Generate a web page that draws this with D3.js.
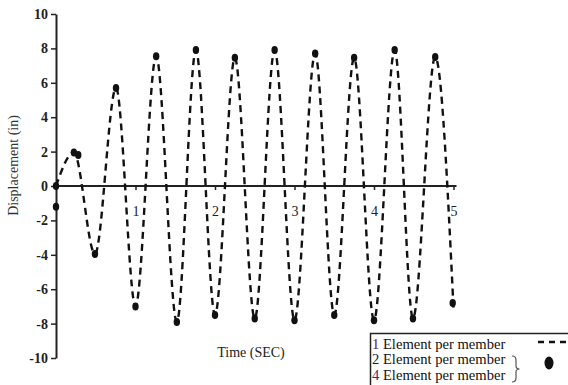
<!DOCTYPE html>
<html><head><meta charset="utf-8">
<script src="https://cdn.jsdelivr.net/npm/d3@7"></script>
<style>
body{margin:0;background:#fff}
svg{display:block}
text{font-family:"Liberation Serif","Times New Roman",serif}
</style>
</head><body>
<svg id="c" width="568" height="385"></svg>
<script>
// 1 element per member (dashed curve) — extremes
const times = [0, 0.225, 0.49, 0.755, 1.0, 1.26, 1.52, 1.76, 2.0, 2.25, 2.5, 2.75, 3.0, 3.26, 3.5, 3.75, 4.0, 4.26, 4.49, 4.77, 5.0];
const displacement = [0, 1.95, -3.95, 5.7, -7.0, 7.55, -7.9, 7.9, -7.5, 7.45, -7.7, 7.9, -7.8, 7.7, -7.5, 7.45, -7.8, 7.9, -7.7, 7.5, -7.1];
// 2 / 4 elements per member (dots)
const dotTimes = [0, 0, 0.225, 0.28, 0.49, 0.755, 1.0, 1.26, 1.52, 1.76, 2.0, 2.25, 2.5, 2.75, 3.0, 3.26, 3.5, 3.75, 4.0, 4.26, 4.49, 4.77, 4.99];
const dotValues = [0, -1.2, 1.95, 1.8, -3.95, 5.7, -7.0, 7.55, -7.9, 7.9, -7.5, 7.45, -7.7, 7.9, -7.8, 7.7, -7.5, 7.45, -7.8, 7.9, -7.7, 7.5, -6.8];
const yTicks = [-10, -8, -6, -4, -2, 0, 2, 4, 6, 8, 10];
const xTicks = [1, 2, 3, 4, 5];
const legendLabels = ["1 Element per member", "2 Element per member", "4 Element per member"];

const svg = d3.select('#c');
svg.append('rect').attr('width', 568).attr('height', 385).attr('fill', '#fff');

const x = d3.scaleLinear().domain([0, 5]).range([56, 453.5]);
const y = d3.scaleLinear().domain([-10, 10]).range([358, 14]);

// Y axis
const gy = svg.append('g').attr('transform', `translate(${x(0)},0)`)
  .call(d3.axisLeft(y).tickValues(yTicks).tickSize(5).tickSizeOuter(0).tickPadding(3).tickFormat(d => String(d)));
gy.select('.domain').attr('stroke', '#222').attr('stroke-width', 2);
gy.selectAll('.tick line').attr('stroke', '#222').attr('stroke-width', 1.5);
gy.selectAll('.tick text').attr('font-size', 14).attr('font-weight', 'bold')
  .attr('font-family', '"Liberation Serif",serif').attr('fill', '#222').style('fill', '#222');

// X axis at y = 0
const gx = svg.append('g').attr('transform', `translate(0,${y(0)})`)
  .call(d3.axisBottom(x).tickValues(xTicks).tickSize(4).tickSizeOuter(0).tickPadding(16).tickFormat(d => String(d)));
gx.select('.domain').remove();
gx.append('line').attr('x1', x(0)).attr('x2', x(5) + 3).attr('y1', 0).attr('y2', 0)
  .attr('stroke', '#222').attr('stroke-width', 2);
gx.selectAll('.tick line').attr('stroke', '#222').attr('stroke-width', 1.5);
gx.selectAll('.tick text').attr('font-size', 14)
  .attr('font-family', '"Liberation Serif",serif').attr('fill', '#222').style('fill', '#222');

// Dashed curve
const pts = times.map((t, i) => [t, displacement[i]]);
const line = d3.line().x(d => x(d[0])).y(d => y(d[1])).curve(d3.curveMonotoneX);
svg.append('path').datum(pts).attr('d', line)
  .attr('fill', 'none').attr('stroke', '#111').attr('stroke-width', 2.4)
  .attr('stroke-dasharray', '7,5');

// Dots
svg.append('g').selectAll('ellipse').data(dotTimes.map((t, i) => [t, dotValues[i]]))
  .join('ellipse').attr('cx', d => x(d[0])).attr('cy', d => y(d[1]))
  .attr('rx', 3.2).attr('ry', 4).attr('fill', '#111');

// Axis titles
svg.append('text').attr('transform', 'translate(18,165.5) rotate(-90)')
  .attr('text-anchor', 'middle').attr('font-size', 14).attr('fill', '#333')
  .text('Displacement (in)');
svg.append('text').attr('x', 251).attr('y', 357)
  .attr('text-anchor', 'middle').attr('font-size', 14).attr('fill', '#222')
  .text('Time (SEC)');

// Legend
const lg = svg.append('g');
lg.append('rect').attr('x', 370.5).attr('y', 333.5).attr('width', 210).attr('height', 60)
  .attr('fill', '#fff').attr('stroke', '#222').attr('stroke-width', 1.5);
const digitColors = ['#5a2060', '#1a1a3a', '#5a2060'];
const baselines = [348.5, 364, 379.5];
legendLabels.forEach((lab, i) => {
  const t = lg.append('text').attr('x', 372).attr('y', baselines[i]).attr('font-size', 14.6).attr('fill', '#111');
  t.append('tspan').attr('fill', digitColors[i]).text(lab.slice(0, 1));
  t.append('tspan').text(lab.slice(1));
});
lg.append('line').attr('x1', 538).attr('x2', 568).attr('y1', 342).attr('y2', 342)
  .attr('stroke', '#111').attr('stroke-width', 2.4).attr('stroke-dasharray', '6,5');
lg.append('ellipse').attr('cx', 549).attr('cy', 363).attr('rx', 4.5).attr('ry', 6.5).attr('fill', '#111');
lg.append('path')
  .attr('d', 'M512,356 q4,0 4,4 v6 q0,3 3.5,3 q-3.5,0 -3.5,3 v6 q0,4 -4,4')
  .attr('fill', 'none').attr('stroke', '#555').attr('stroke-width', 1.2);
</script>
</body></html>
